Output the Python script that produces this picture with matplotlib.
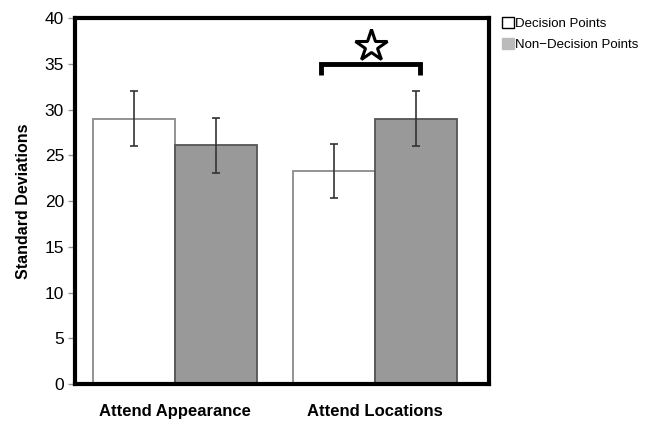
import matplotlib
matplotlib.use("Agg")
import matplotlib.pyplot as plt
import numpy as np
from matplotlib.patches import Patch

plt.rcParams['font.family'] = ['Liberation Sans', 'DejaVu Sans']

categories = ["Attend Appearance", "Attend Locations"]
series_names = ["Decision Points", "Non\u2212Decision Points"]
decision = [29.0, 23.3]
non_decision = [26.1, 29.0]
decision_err = [3.0, 3.0]
non_decision_err = [3.0, 3.0]
yticks = [0, 5, 10, 15, 20, 25, 30, 35, 40]

fig = plt.figure(figsize=(6.48, 4.23), dpi=100)
ax = fig.add_axes([0.116, 0.092, 0.639, 0.865])

x = np.arange(len(categories))
w = 0.41
ax.bar(x - w/2, decision, w, color="white", edgecolor="#8a8a8a", linewidth=1.3, zorder=2)
ax.bar(x + w/2, non_decision, w, color="#999999", edgecolor="#555555", linewidth=1.3, zorder=2)
ax.errorbar(x - w/2, decision, yerr=decision_err, fmt="none", ecolor="#333333",
            elinewidth=1.2, capsize=3, capthick=1.2, zorder=3)
ax.errorbar(x + w/2, non_decision, yerr=non_decision_err, fmt="none", ecolor="#333333",
            elinewidth=1.2, capsize=3, capthick=1.2, zorder=3)

# significance bracket
bx0 = x[1] - w/2 - 0.065
bx1 = x[1] + w/2 + 0.02
ax.plot([bx0, bx0, bx1, bx1], [33.8, 35.0, 35.0, 33.8], color="black", lw=3.5,
        solid_joinstyle="miter", solid_capstyle="butt", zorder=4)
ax.plot([(bx0 + bx1) / 2], [37.0], marker="*", markersize=24, markerfacecolor="white",
        markeredgecolor="black", markeredgewidth=2.2, zorder=4)

ax.set_xlim(-0.5, 1.57)
ax.set_ylim(0, 40)
ax.set_yticks(yticks)
ax.set_yticklabels([str(t) for t in yticks], fontsize=12.5)
ax.set_xticks(x)
ax.set_xticklabels(categories, fontsize=12, fontweight="bold")
ax.tick_params(axis="x", length=0, pad=14)
ax.tick_params(axis="y", length=5, width=1, color="#999999", pad=3)
for s in ax.spines.values():
    s.set_linewidth(3)
    s.set_color("black")
ax.set_ylabel("Standard Deviations", fontsize=11.5, fontweight="bold", labelpad=10)

handles = [Patch(facecolor="white", edgecolor="black", linewidth=1),
           Patch(facecolor="#bbbbbb", edgecolor="#bbbbbb", linewidth=1)]
fig.legend(handles, series_names, loc="upper left", bbox_to_anchor=(0.764, 0.975),
           frameon=False, fontsize=9.5, handlelength=0.9, handleheight=0.9,
           handletextpad=0.1, labelspacing=0.6, borderpad=0)

fig.savefig("out.png", dpi=100)
